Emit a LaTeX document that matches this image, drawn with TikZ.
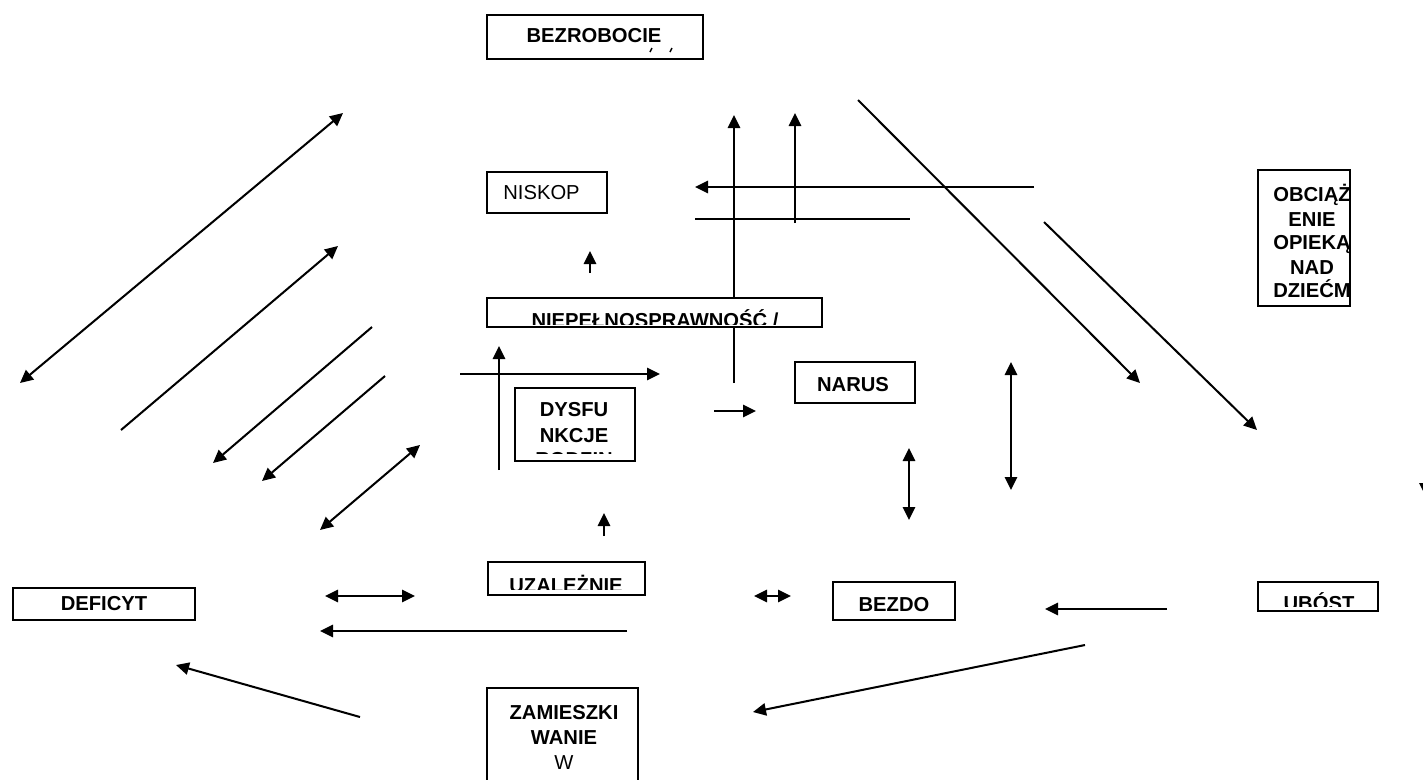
\documentclass[tikz,border=0pt]{standalone}
\usepackage{fontspec}
\setmainfont{Liberation Sans}
\usetikzlibrary{arrows.meta}

\tikzset{
  linia/.style={line width=1.15pt},
  strzalka/.style={linia, -{Triangle[length=7.4pt,width=7pt]}},
  dwustronna/.style={linia, {Triangle[length=7.4pt,width=7pt]}-{Triangle[length=7.4pt,width=7pt]}},
  ramka/.style={draw, fill=white, line width=0.9pt, inner sep=0pt},
  napis/.style={font=\bfseries\fontsize{11.5}{14}\selectfont, inner sep=0pt, anchor=base},
  zwykly/.style={font=\fontsize{11.5}{14}\selectfont, inner sep=0pt, anchor=base},
}

\begin{document}
\begin{tikzpicture}[x=0.02cm, y=-0.02cm]
 \clip (0,0) rectangle (1423,779);

 % ends of the connectors
 \coordinate (a1) at (20,383);    \coordinate (b1) at (343,113);
 \coordinate (a2) at (121,430);   \coordinate (b2) at (338,246);
 \coordinate (a3) at (372,327);   \coordinate (b3) at (213,463);
 \coordinate (a4) at (385,376);   \coordinate (b4) at (262,481);
 \coordinate (a5) at (320,530);   \coordinate (b5) at (420,445);
 \coordinate (a6) at (590,273);   \coordinate (b6) at (590,251);
 \coordinate (a7) at (734,383);   \coordinate (b7) at (734,115);
 \coordinate (a8) at (795,223);   \coordinate (b8) at (795,113);
 \coordinate (a9) at (1034,187);  \coordinate (b9) at (695,187);
 \coordinate (a10) at (695,219);  \coordinate (b10) at (910,219);
 \coordinate (a11) at (858,100);  \coordinate (b11) at (1140,383);
 \coordinate (a12) at (1044,222); \coordinate (b12) at (1257,430);
 \coordinate (a13) at (460,374);  \coordinate (b13) at (660,374);
 \coordinate (a14) at (499,470);  \coordinate (b14) at (499,346);
 \coordinate (a15) at (714,411);  \coordinate (b15) at (756,411);
 \coordinate (a16) at (1011,362); \coordinate (b16) at (1011,490);
 \coordinate (a17) at (909,448);  \coordinate (b17) at (909,520);
 \coordinate (a18) at (604,536);  \coordinate (b18) at (604,513);
 \coordinate (a19) at (325,596);  \coordinate (b19) at (415,596);
 \coordinate (a20) at (627,631);  \coordinate (b20) at (320,631);
 \coordinate (a21) at (754,596);  \coordinate (b21) at (791,596);
 \coordinate (a22) at (1167,609); \coordinate (b22) at (1045,609);
 \coordinate (a23) at (1085,645); \coordinate (b23) at (753,712);
 \coordinate (a24) at (360,717);  \coordinate (b24) at (176,665);

 % connectors
 \draw[dwustronna] (a1) -- (b1);
 \draw[strzalka] (a2) -- (b2);
 \draw[strzalka] (a3) -- (b3);
 \draw[strzalka] (a4) -- (b4);
 \draw[dwustronna] (a5) -- (b5);
 \draw[strzalka] (a6) -- (b6);
 \draw[strzalka] (a7) -- (b7);
 \draw[strzalka] (a8) -- (b8);
 \draw[strzalka] (a9) -- (b9);
 \draw[linia] (a10) -- (b10);
 \draw[strzalka] (a11) -- (b11);
 \draw[strzalka] (a12) -- (b12);
 \draw[strzalka] (a13) -- (b13);
 \draw[strzalka] (a14) -- (b14);
 \draw[strzalka] (a15) -- (b15);
 \draw[dwustronna] (a16) -- (b16);
 \draw[dwustronna] (a17) -- (b17);
 \draw[strzalka] (a18) -- (b18);
 \draw[dwustronna] (a19) -- (b19);
 \draw[strzalka] (a20) -- (b20);
 \draw[dwustronna] (a21) -- (b21);
 \draw[strzalka] (a22) -- (b22);
 \draw[strzalka] (a23) -- (b23);
 \draw[strzalka] (a24) -- (b24);
 % arrow head at the right edge
 \fill (1419,483) -- (1424,483) -- (1423,491) -- cycle;

 % boxes
 \node[ramka, minimum width=4.32cm, minimum height=0.88cm] (bezrobocie) at (595,37) {};
 \node[ramka, minimum width=2.4cm, minimum height=0.82cm] (niskop) at (547,192.5) {};
 \node[ramka, minimum width=6.7cm, minimum height=0.58cm] (niepeln) at (654.5,312.5) {};
 \node[ramka, minimum width=2.4cm, minimum height=1.46cm] (dysf) at (575,424.5) {};
 \node[ramka, minimum width=2.4cm, minimum height=0.82cm] (narus) at (855,382.5) {};
 \node[ramka, minimum width=1.84cm, minimum height=2.72cm] (obciaz) at (1304,238) {};
 \node[ramka, minimum width=3.64cm, minimum height=0.64cm] (deficyt) at (104,604) {};
 \node[ramka, minimum width=3.14cm, minimum height=0.66cm] (uzal) at (566.5,578.5) {};
 \node[ramka, minimum width=2.44cm, minimum height=0.76cm] (bezdo) at (894,601) {};
 \node[ramka, minimum width=2.4cm, minimum height=0.58cm] (ubost) at (1318,596.5) {};
 \node[ramka, minimum width=3.02cm, minimum height=2.24cm] (zamiesz) at (562.5,744) {};

 % texts
 \node[napis] (t-bezrobocie) at (594,42.5) {BEZROBOCIE};
 \draw[line width=0.8pt] (650,52) -- (652,48);
 \draw[line width=0.8pt] (670,52) -- (672,48);
 \node[zwykly, anchor=base west] (t-niskop) at (503,199.5) {NISKOP};
 \node[napis] (t-narus) at (853,391.5) {NARUS};
 \node[napis] (t-deficyt) at (104,610) {DEFICYT};
 \node[napis] (t-bezdo) at (894,611) {BEZDO};
 \node[napis] (t-zam1) at (564,719.5) {ZAMIESZKI};
 \node[napis] (t-zam2) at (564,744.5) {WANIE};
 \node[zwykly] (t-zam3) at (564,769.5) {W};

 % texts cut off by their boxes
 \begin{scope}
  \clip (488,299) rectangle (821,324);
  \node[napis] (t-niepeln) at (655,327.5) {NIEPEŁNOSPRAWNOŚĆ /};
 \end{scope}
 \begin{scope}
  \clip (516,389) rectangle (634,453);
  \node[napis] (t-dysf1) at (574,416.5) {DYSFU};
  \node[napis] (t-dysf2) at (574,442.5) {NKCJE};
  \node[napis] (t-dysf3) at (574,466.5) {RODZIN};
 \end{scope}
 \begin{scope}
  \clip (1259,171) rectangle (1349,305);
  \node[napis] (t-obc1) at (1312,201) {OBCIĄŻ};
  \node[napis] (t-obc2) at (1312,226) {ENIE};
  \node[napis] (t-obc3) at (1312,249) {OPIEKĄ};
  \node[napis] (t-obc4) at (1312,274) {NAD};
  \node[napis] (t-obc5) at (1312,297) {DZIEĆM};
 \end{scope}
 \begin{scope}
  \clip (489,563) rectangle (644,589);
  \node[napis] (t-uzal) at (566,592.5) {UZALEŻNIE};
 \end{scope}
 \begin{scope}
  \clip (1259,583) rectangle (1377,606);
  \node[napis] (t-ubost) at (1319,610.5) {UBÓST};
 \end{scope}
\end{tikzpicture}
\end{document}
